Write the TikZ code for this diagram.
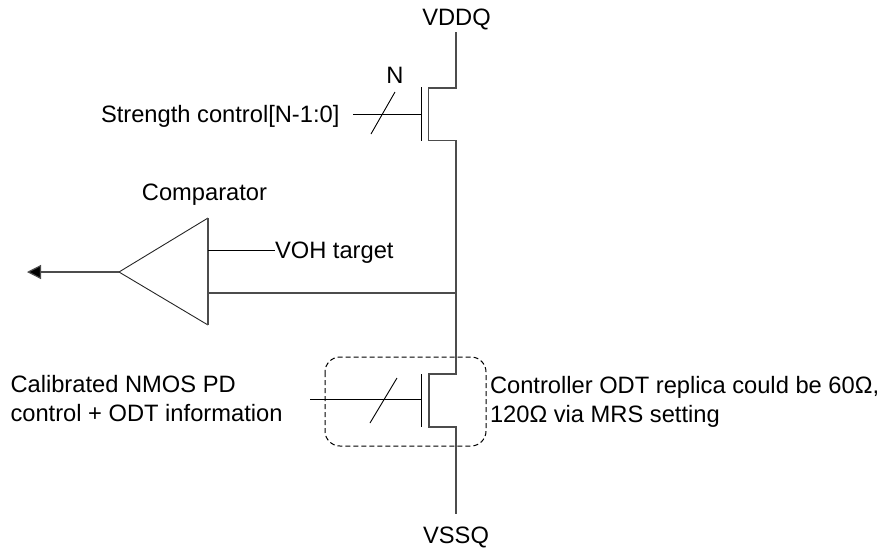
\documentclass[tikz,border=0pt]{standalone}
\usepackage{fontspec}
\setmainfont{Liberation Sans}
\usetikzlibrary{arrows.meta}
\tikzset{
  lbl/.style={inner sep=0pt,outer sep=0pt,font=\fontsize{23.7}{29}\selectfont,text=black},
  wire/.style={draw=black!70,line width=1.2pt},
  thin wire/.style={draw=black,line width=0.9pt},
  dashbox/.style={draw=black,line width=1pt,dash pattern=on 5pt off 3pt,rounded corners=15pt}
}
\begin{document}
\begin{tikzpicture}[x=1pt,y=-1pt]
\useasboundingbox (0,0) rectangle (885,550);
% labels
\node[lbl,anchor=base] (vddq) at (456.5,25) {VDDQ};
\node[lbl,anchor=base] (vssq) at (456,543) {VSSQ};
\node[lbl,anchor=base] (n) at (395,83) {N};
\node[lbl,anchor=base west] (strength) at (101,122) {Strength control[N-1:0]};
\node[lbl,anchor=base] (comparator) at (204.5,200) {Comparator};
\node[lbl,anchor=base west] (voh) at (275,258) {VOH target};
\node[lbl,anchor=west,align=left] (cal) at (10.5,399) {Calibrated NMOS PD\\control + ODT information};
\node[lbl,anchor=west,align=left] (odt) at (490,401.5) {Controller ODT replica could be 60Ω,\\120Ω via MRS setting};
% coordinates
\coordinate (vtop) at (456,32);
\coordinate (d1) at (456,88);
\coordinate (c1) at (428.5,88);
\coordinate (s1) at (428.5,140.5);
\coordinate (s1r) at (456,140.5);
\coordinate (gt1) at (421.5,87);
\coordinate (gb1) at (421.5,141);
\coordinate (gw1) at (353,114);
\coordinate (g1) at (421.5,114);
\coordinate (sl1a) at (371,134);
\coordinate (sl1b) at (395,92);
\coordinate (junction) at (456,293);
\coordinate (d2) at (456,374);
\coordinate (c2) at (429,374);
\coordinate (s2) at (429,427);
\coordinate (s2r) at (456,427);
\coordinate (vbot) at (456,514);
\coordinate (gt2) at (421.5,374);
\coordinate (gb2) at (421.5,427);
\coordinate (gw2) at (310,399);
\coordinate (g2) at (421.5,399);
\coordinate (sl2a) at (370,423);
\coordinate (sl2b) at (397,378);
\coordinate (apex) at (119,272);
\coordinate (ctop) at (208,218);
\coordinate (cbot) at (208,325);
\coordinate (cin1) at (208,250);
\coordinate (cin2) at (208,293);
\coordinate (out) at (27,272);
% upper transistor
\draw[wire] (vtop) -- (d1) -- (c1) -- (s1) -- (s1r) -- (junction);
\draw[thin wire] (gt1) -- (gb1);
\draw[thin wire] (gw1) -- (g1);
\draw[thin wire] (sl1a) -- (sl1b);
% lower transistor
\draw[wire] (junction) -- (d2) -- (c2) -- (s2) -- (s2r) -- (vbot);
\draw[thin wire] (gt2) -- (gb2);
\draw[thin wire] (gw2) -- (g2);
\draw[thin wire] (sl2a) -- (sl2b);
\draw[dashbox] (325,357) rectangle (486,446);
% comparator
\draw[thin wire,draw=black!85,line join=miter] (ctop) -- (apex) -- (cbot);
\draw[wire] (ctop) -- (cbot);
\draw[thin wire] (cin1) -- (cin1 -| voh.west);
\draw[wire] (cin2) -- (junction);
\draw[wire,-{Triangle[length=14pt,width=14pt,fill=black]}] (apex) -- (out);
\end{tikzpicture}
\end{document}
